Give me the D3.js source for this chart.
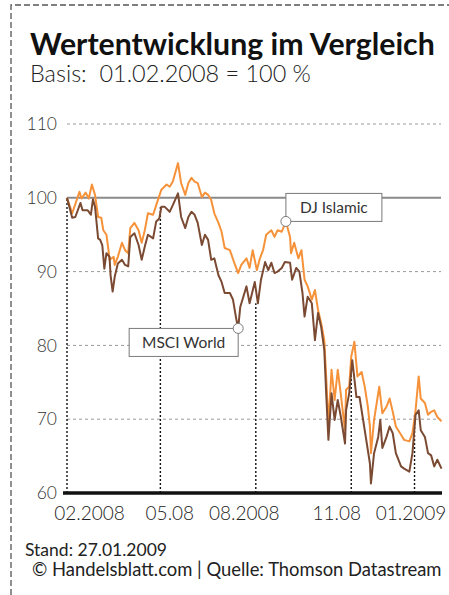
<!DOCTYPE html>
<html lang="de">
<head>
<meta charset="UTF-8">
<title>Wertentwicklung im Vergleich</title>
<script src="https://cdn.jsdelivr.net/npm/d3@7"></script>
<style>
  body { margin: 0; background: #fff; }
  svg { display: block; font-family: Lato, "Open Sans", sans-serif; }
</style>
</head>
<body>
<div id="chart"></div>
<script>
// Datenreihen (Basis 01.02.2008 = 100)
var djIslamic = [
  ["2008-02-01",100.0],["2008-02-06",97.9],["2008-02-13",100.8],["2008-02-15",99.9],["2008-02-19",100.7],
  ["2008-02-22",99.9],["2008-02-25",101.8],["2008-02-28",100.4],["2008-03-02",97.4],["2008-03-05",97.3],
  ["2008-03-07",95.6],["2008-03-10",95.0],["2008-03-12",92.9],["2008-03-13",91.6],["2008-03-17",92.0],
  ["2008-03-18",90.9],["2008-03-21",92.0],["2008-03-25",93.9],["2008-03-28",92.9],["2008-03-31",92.5],
  ["2008-04-02",95.9],["2008-04-06",96.6],["2008-04-10",95.6],["2008-04-13",93.9],["2008-04-16",95.6],
  ["2008-04-19",97.9],["2008-04-24",97.7],["2008-04-27",99.0],["2008-05-02",101.1],["2008-05-07",101.8],
  ["2008-05-10",101.5],["2008-05-13",102.2],["2008-05-18",104.7],["2008-05-21",102.0],["2008-05-25",100.4],
  ["2008-05-28",102.0],["2008-05-31",102.7],["2008-06-03",102.2],["2008-06-06",102.0],["2008-06-10",100.1],
  ["2008-06-13",100.7],["2008-06-16",100.4],["2008-06-19",99.7],["2008-06-22",97.9],["2008-06-26",96.6],
  ["2008-06-29",95.4],["2008-07-02",93.2],["2008-07-07",92.9],["2008-07-12",90.9],["2008-07-15",89.8],
  ["2008-07-18",90.9],["2008-07-23",91.8],["2008-07-26",90.5],["2008-07-29",92.9],["2008-08-02",90.2],
  ["2008-08-05",91.8],["2008-08-08",92.9],["2008-08-11",95.0],["2008-08-16",95.6],["2008-08-19",94.7],
  ["2008-08-22",95.6],["2008-08-26",95.4],["2008-08-30",96.8],["2008-09-03",94.7],["2008-09-04",92.5],
  ["2008-09-07",93.9],["2008-09-11",91.8],["2008-09-14",92.9],["2008-09-17",88.9],["2008-09-20",88.0],
  ["2008-09-24",86.2],["2008-09-27",87.5],["2008-09-30",84.8],["2008-10-03",83.0],["2008-10-06",80.7],
  ["2008-10-08",75.3],["2008-10-10",69.2],["2008-10-13",76.7],["2008-10-16",72.6],["2008-10-19",76.7],
  ["2008-10-22",73.3],["2008-10-26",68.5],["2008-10-27",74.0],["2008-10-30",74.4],["2008-11-01",78.5],
  ["2008-11-04",80.5],["2008-11-07",75.8],["2008-11-11",76.4],["2008-11-14",74.4],["2008-11-17",71.7],
  ["2008-11-19",69.0],["2008-11-20",65.4],["2008-11-23",69.9],["2008-11-28",74.4],["2008-12-01",70.8],
  ["2008-12-05",71.7],["2008-12-08",72.8],["2008-12-11",71.0],["2008-12-14",69.0],["2008-12-19",67.9],
  ["2008-12-22",67.2],["2008-12-27",67.0],["2008-12-30",68.1],["2009-01-02",71.2],["2009-01-05",75.8],
  ["2009-01-07",72.8],["2009-01-11",72.2],["2009-01-14",70.6],["2009-01-17",71.0],["2009-01-20",71.2],
  ["2009-01-23",70.3],["2009-01-27",69.7]
];

var msciWorld = [
  ["2008-02-01",100.0],["2008-02-06",97.3],["2008-02-09",97.4],["2008-02-14",99.3],["2008-02-16",98.3],
  ["2008-02-21",98.3],["2008-02-24",97.7],["2008-02-26",99.8],["2008-02-28",98.8],["2008-03-02",94.5],
  ["2008-03-04",94.3],["2008-03-06",93.6],["2008-03-08",90.4],["2008-03-10",92.5],["2008-03-13",92.0],
  ["2008-03-14",89.5],["2008-03-16",87.3],["2008-03-18",89.3],["2008-03-21",91.1],["2008-03-25",91.6],
  ["2008-03-28",90.9],["2008-03-31",90.7],["2008-04-02",94.7],["2008-04-06",95.2],["2008-04-10",93.6],
  ["2008-04-13",91.6],["2008-04-16",93.4],["2008-04-19",95.0],["2008-04-24",94.5],["2008-04-27",96.8],
  ["2008-04-30",97.2],["2008-05-02",98.8],["2008-05-05",98.8],["2008-05-10",98.1],["2008-05-13",99.0],
  ["2008-05-18",100.6],["2008-05-21",97.4],["2008-05-25",95.9],["2008-05-28",97.4],["2008-05-31",98.1],
  ["2008-06-03",97.7],["2008-06-06",96.6],["2008-06-10",93.6],["2008-06-13",95.0],["2008-06-16",94.3],
  ["2008-06-19",91.6],["2008-06-22",91.8],["2008-06-26",89.5],["2008-06-29",88.6],["2008-07-02",87.1],
  ["2008-07-07",87.1],["2008-07-10",86.2],["2008-07-13",83.7],["2008-07-15",82.3],["2008-07-17",85.2],
  ["2008-07-23",88.0],["2008-07-26",85.7],["2008-07-31",88.6],["2008-08-03",85.7],["2008-08-06",88.9],
  ["2008-08-10",91.3],["2008-08-13",90.2],["2008-08-16",91.2],["2008-08-19",89.8],["2008-08-22",90.0],
  ["2008-08-26",90.5],["2008-08-29",91.3],["2008-09-03",91.2],["2008-09-05",88.9],["2008-09-09",90.5],
  ["2008-09-12",90.0],["2008-09-15",87.1],["2008-09-17",83.9],["2008-09-20",86.6],["2008-09-24",85.7],
  ["2008-09-27",80.7],["2008-09-30",84.4],["2008-10-03",82.5],["2008-10-06",79.4],["2008-10-08",73.0],
  ["2008-10-10",67.2],["2008-10-13",73.5],["2008-10-16",69.9],["2008-10-19",72.6],["2008-10-22",70.3],
  ["2008-10-26",66.7],["2008-10-27",71.2],["2008-10-30",73.5],["2008-11-02",78.0],["2008-11-06",73.0],
  ["2008-11-09",73.0],["2008-11-12",70.3],["2008-11-15",67.6],["2008-11-19",64.0],["2008-11-20",61.3],
  ["2008-11-23",65.4],["2008-11-27",67.6],["2008-11-29",69.9],["2008-12-01",66.1],["2008-12-05",67.6],
  ["2008-12-08",69.0],["2008-12-11",68.1],["2008-12-14",65.4],["2008-12-19",63.6],["2008-12-22",63.3],
  ["2008-12-27",62.9],["2008-12-30",65.4],["2009-01-02",70.6],["2009-01-05",71.2],["2009-01-07",68.5],
  ["2009-01-11",67.6],["2009-01-14",65.4],["2009-01-17",65.1],["2009-01-20",63.6],["2009-01-23",64.5],
  ["2009-01-27",63.3]
];

var tickDates = ["2008-02-01", "2008-05-01", "2008-08-01", "2008-11-01", "2009-01-01"];
var tickLabels = ["02.2008", "05.08", "08.2008", "11.08", "01.2009"];
var yTicks = [60, 70, 80, 90, 100, 110];
var seriesNames = ["DJ Islamic", "MSCI World"];
var calloutDates = ["2008-08-30", "2008-07-15"];

var width = 449, height = 595;
var parse = d3.timeParse("%Y-%m-%d");
var orange = "#f6923a", brown = "#7b4a33";

var svg = d3.select("#chart").append("svg")
  .attr("width", width)
  .attr("height", height);

// gestrichelter Rahmen (oben und links)
svg.append("path")
  .attr("d", "M11,595 V5 H449")
  .attr("fill", "none")
  .attr("stroke", "#555")
  .attr("stroke-width", 1.3)
  .attr("stroke-dasharray", "6,3");

// Titel
function fit(sel, w) {
  var len = sel.node().getComputedTextLength();
  var fs = parseFloat(sel.attr("font-size"));
  sel.attr("font-size", fs * w / len);
}
svg.append("text").attr("x", 30).attr("y", 55)
  .attr("font-size", 32).attr("font-weight", 700).attr("fill", "#111")
  .text("Wertentwicklung im Vergleich").call(fit, 405);
svg.append("text").attr("x", 30).attr("y", 82)
  .attr("font-size", 20).attr("font-weight", 300).attr("fill", "#222")
  .attr("xml:space", "preserve")
  .text("Basis:  01.02.2008 = 100 %").call(fit, 281);

var x = d3.scaleTime()
  .domain([parse("2008-02-01"), parse("2009-01-27")])
  .range([67, 441.5]);
var y = d3.scaleLinear().domain([60, 110]).range([493, 124]);

// Gitterlinien
svg.append("g").selectAll("line")
  .data(yTicks.filter(function (d) { return d > 60; }))
  .enter().append("line")
  .attr("x1", 67).attr("x2", 441)
  .attr("y1", function (d) { return y(d); })
  .attr("y2", function (d) { return y(d); })
  .attr("stroke", function (d) { return d === 100 ? "#8a8a8a" : "#9a9a9a"; })
  .attr("stroke-width", function (d) { return d === 100 ? 2 : 1; })
  .attr("stroke-dasharray", function (d) { return d === 100 ? null : "3,3"; });

// senkrechte Punktlinien bis zur MSCI-Kurve
var msci = msciWorld.map(function (d) { return { date: parse(d[0]), value: d[1] }; });
var dji = djIslamic.map(function (d) { return { date: parse(d[0]), value: d[1] }; });
var bis = d3.bisector(function (d) { return d.date; }).left;
svg.append("g").selectAll("line")
  .data(tickDates)
  .enter().append("line")
  .attr("x1", function (d) { return x(parse(d)); })
  .attr("x2", function (d) { return x(parse(d)); })
  .attr("y1", y(60))
  .attr("y2", function (d) { return y(msci[bis(msci, parse(d))].value); })
  .attr("stroke", "#111")
  .attr("stroke-width", 1.4)
  .attr("stroke-dasharray", "2,2");

// Kurven
var line = d3.line()
  .x(function (d) { return x(d.date); })
  .y(function (d) { return y(d.value); });
svg.append("path").datum(dji)
  .attr("d", line).attr("fill", "none")
  .attr("stroke", orange).attr("stroke-width", 2).attr("stroke-linejoin", "round");
svg.append("path").datum(msci)
  .attr("d", line).attr("fill", "none")
  .attr("stroke", brown).attr("stroke-width", 2).attr("stroke-linejoin", "round");

// Achsen
var yAxis = svg.append("g")
  .attr("transform", "translate(67,0)")
  .call(d3.axisLeft(y).tickValues(yTicks).tickSize(0).tickPadding(10));
yAxis.select(".domain").remove();
yAxis.selectAll("text").attr("font-size", 17.5).attr("fill", "#333")
  .attr("font-weight", 300)
  .attr("font-family", "Lato, sans-serif");

svg.append("line")
  .attr("x1", 63).attr("x2", 442)
  .attr("y1", y(60)).attr("y2", y(60))
  .attr("stroke", "#111").attr("stroke-width", 3.5);

var labelShift = [22, 9, -12, -15, -4];
var xAxis = svg.append("g")
  .attr("transform", "translate(0," + y(60) + ")")
  .call(d3.axisBottom(x)
    .tickValues(tickDates.map(parse))
    .tickSize(0).tickPadding(14)
    .tickFormat(function (d, i) { return tickLabels[i]; }));
xAxis.select(".domain").remove();
xAxis.selectAll("text")
  .attr("font-size", 19).attr("fill", "#222")
  .attr("font-weight", 300)
  .attr("font-family", "Lato, sans-serif")
  .attr("dx", function (d, i) { return labelShift[i]; });

// Beschriftungen mit Kreismarkern
var calloutPts = [
  dji[bis(dji, parse(calloutDates[0]))],
  msci[bis(msci, parse(calloutDates[1]))]
];
var boxW = [96, 109], boxH = 28;
calloutPts.forEach(function (p, i) {
  var cx = x(p.date), cy = y(p.value);
  var bx = i === 0 ? cx : cx - boxW[i];
  var by = i === 0 ? cy - boxH : cy;
  var g = svg.append("g");
  g.append("rect")
    .attr("x", bx).attr("y", by)
    .attr("width", boxW[i]).attr("height", boxH)
    .attr("fill", "#fff").attr("stroke", "#7a7a7a").attr("stroke-width", 1);
  g.append("text")
    .attr("x", bx + boxW[i] / 2).attr("y", by + boxH / 2 + 5.5)
    .attr("text-anchor", "middle")
    .attr("font-size", 15.5).attr("fill", "#333")
    .text(seriesNames[i]);
  g.append("circle")
    .attr("cx", cx).attr("cy", cy).attr("r", 5)
    .attr("fill", "#fff").attr("stroke", "#7a7a7a").attr("stroke-width", 1);
});

// Fußzeile
svg.append("text").attr("x", 25).attr("y", 556)
  .attr("font-size", 17.5).attr("fill", "#222")
  .text("Stand: 27.01.2009");
svg.append("text").attr("x", 32).attr("y", 576)
  .attr("font-size", 16.5).attr("fill", "#222")
  .text("© Handelsblatt.com | Quelle: Thomson Datastream").call(fit, 410);
</script>
</body>
</html>
